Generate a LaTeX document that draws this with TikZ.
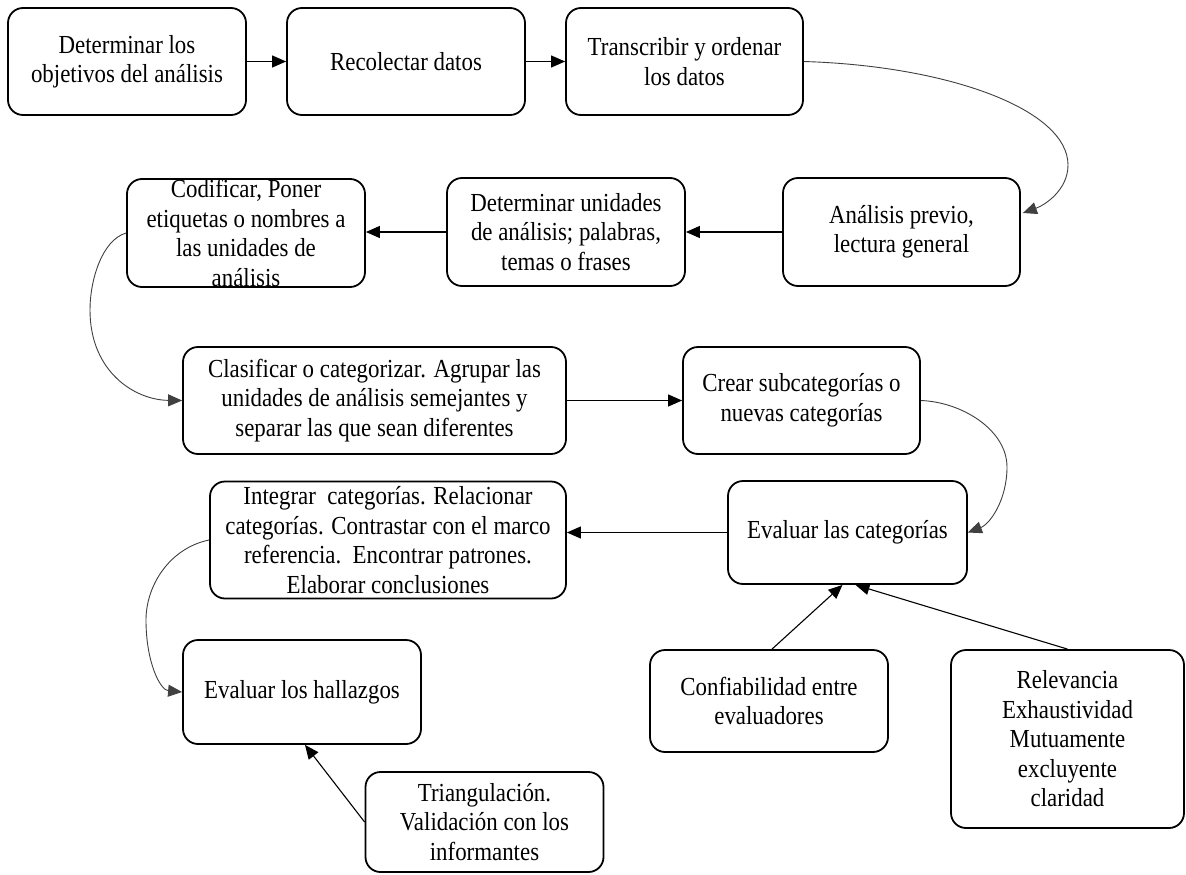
\documentclass[tikz,border=0pt]{standalone}
\usepackage{fontspec}
\setmainfont{Liberation Serif}[FakeStretch=0.88]
\usetikzlibrary{arrows.meta,calc}
\tikzset{
  box/.style={draw=black, line width=1.8pt, rounded corners=15pt, align=center,
    inner sep=0pt, font=\fontsize{26}{29.5}\selectfont},
  conn/.style={-{Triangle[length=14pt,width=12pt]}, line width=1.1pt, draw=black},
  curv/.style={-{Triangle[length=14pt,width=12pt]}, line width=0.9pt, draw=black!75}
}
\begin{document}
\begin{tikzpicture}[x=1pt,y=-1pt]
\useasboundingbox[fill=white] (0,0) rectangle (1186,875);
% row 1
\node[box, minimum width=238pt, minimum height=107pt] (b1) at (127,61.5) {Determinar los\\objetivos del análisis};
\node[box, minimum width=238pt, minimum height=107pt] (b2) at (406,61.5) {Recolectar datos};
\node[box, minimum width=237pt, minimum height=107pt] (b3) at (684.5,61.5) {Transcribir y ordenar\\los datos};
% row 2
\node[box, minimum width=237pt, minimum height=108pt] (an) at (901.5,232) {Análisis previo,\\lectura general};
\node[box, minimum width=238pt, minimum height=108pt] (du) at (566,232) {Determinar unidades\\de análisis; palabras,\\temas o frases};
\node[box, minimum width=238pt, minimum height=108pt] (co) at (246,233) {Codificar, Poner\\etiquetas o nombres a\\las unidades de\\análisis};
% row 3
\node[box, minimum width=383pt, minimum height=107pt] (cl) at (374.5,400.5) {Clasificar o categorizar. Agrupar las\\unidades de análisis semejantes y\\separar las que sean diferentes};
\node[box, minimum width=237pt, minimum height=107pt] (cr) at (801.5,400.5) {Crear subcategorías o\\nuevas categorías};
% row 4
\node[box, minimum width=239pt, minimum height=103pt] (ec) at (847.5,532.5) {Evaluar las categorías};
\node[box, minimum width=356pt, minimum height=117pt] (in) at (388,540) {Integrar\ \ categorías. Relacionar\\categorías. Contrastar con el marco\\referencia.\ \ Encontrar patrones.\\Elaborar conclusiones};
% row 5
\node[box, minimum width=238pt, minimum height=104pt] (eh) at (302,692) {Evaluar los hallazgos};
\node[box, minimum width=238pt, minimum height=102pt] (cf) at (769,701) {Confiabilidad entre\\evaluadores};
\node[box, minimum width=233pt, minimum height=178pt] (re) at (1067.5,739) {Relevancia\\Exhaustividad\\Mutuamente\\excluyente\\claridad};
\node[box, minimum width=238pt, minimum height=100pt] (tr) at (484.5,822) {Triangulación.\\Validación con los\\informantes};
% connectors
\draw[conn] (b1.east) -- (b2.west);
\draw[conn] (b2.east) -- (b3.west);
\coordinate (anin) at ($(an.east)+(2,-19)$);
\draw[curv] (b3.east) .. controls (950,66) and (1068,110) .. (1068,165) .. controls (1068,190) and (1045,205) .. (anin);
\draw[conn] (an.west) -- (du.east);
\draw[conn] (du.west) -- (du.west -| co.east);
\draw[curv] (co.west) .. controls (102,240) and (90,280) .. (90,310) .. controls (90,372) and (135,400) .. (cl.west);
\draw[conn] (cl.east) -- (cr.west);
\draw[curv] (cr.east) .. controls (962,402) and (1007,430) .. (1007,467) .. controls (1007,500) and (990,524) .. (ec.east);
\draw[conn] (ec.west) -- (ec.west -| in.east);
\draw[curv] (in.west) .. controls (170,548) and (146,585) .. (146,620) .. controls (146,662) and (160,690) .. (eh.west);
\coordinate (trout) at ($(tr.west)+(0,0)$);
\draw[conn] (trout) -- ($(eh.south)+(3,0)$);
\draw[conn] ($(cf.north)+(3,0)$) -- ($(ec.south)+(-5,0)$);
\draw[conn] (re.north) -- ($(ec.south)+(8,0)$);
\end{tikzpicture}
\end{document}
